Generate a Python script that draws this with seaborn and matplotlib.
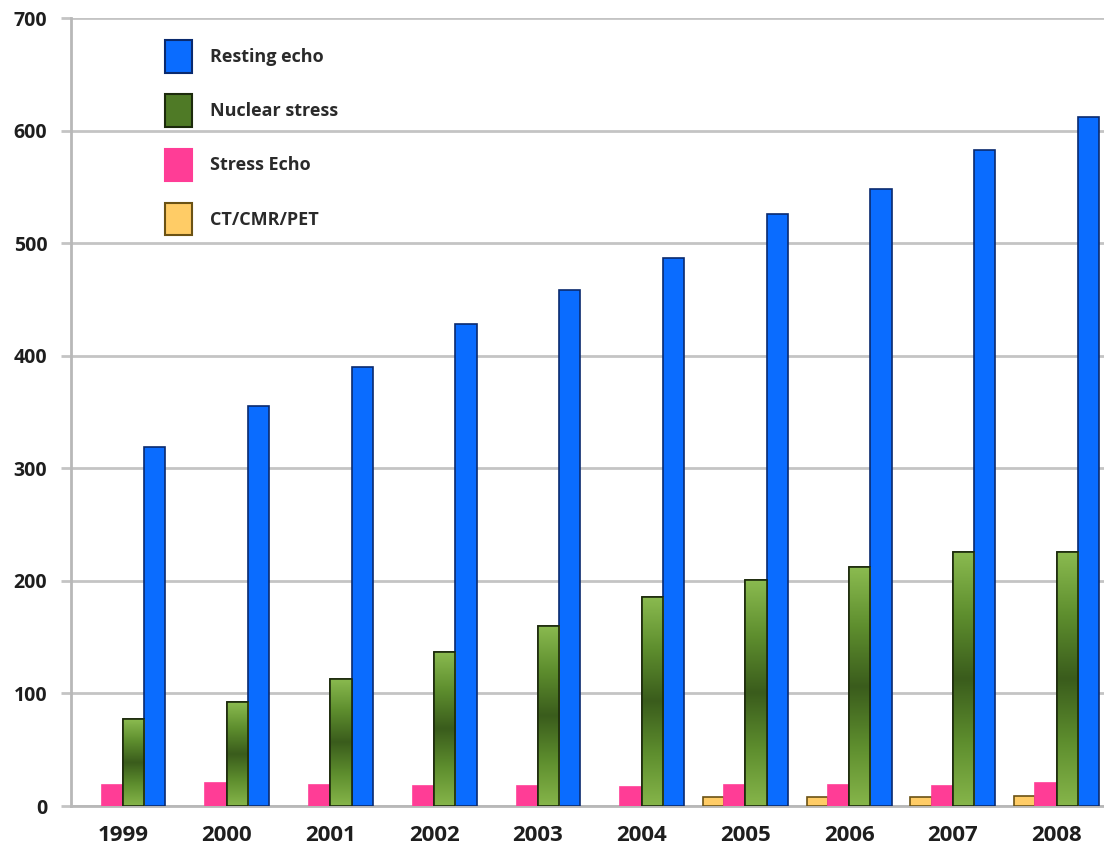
import numpy as np
import pandas as pd
import matplotlib
matplotlib.use("Agg")
import matplotlib.pyplot as plt
from matplotlib.patches import Patch, Rectangle
from matplotlib.colors import LinearSegmentedColormap
import seaborn as sns

years = ["1999", "2000", "2001", "2002", "2003", "2004", "2005", "2006", "2007", "2008"]
ct_cmr_pet = [0, 0, 0, 0, 0, 0, 8, 8, 8, 9]
stress_echo = [19, 20, 19, 18, 18, 17, 19, 19, 18, 20]
nuclear_stress = [77, 92, 113, 137, 160, 186, 201, 212, 226, 226]
resting_echo = [319, 355, 390, 428, 458, 487, 526, 548, 583, 612]

series = ["CT/CMR/PET", "Stress Echo", "Nuclear stress", "Resting echo"]
colors = {
    "CT/CMR/PET": "#ffcc66",
    "Stress Echo": "#ff3d96",
    "Nuclear stress": "#5e8a30",
    "Resting echo": "#0a6cff",
}
edges = {
    "CT/CMR/PET": "#6b5214",
    "Stress Echo": "#ff3d96",
    "Nuclear stress": "#1c2a0c",
    "Resting echo": "#0a2a6e",
}

df = pd.DataFrame({
    "year": np.repeat(years, 4),
    "series": series * len(years),
    "value": np.ravel(np.column_stack([ct_cmr_pet, stress_echo, nuclear_stress, resting_echo])),
})

sns.set_theme(style="white")
plt.rcParams["font.family"] = ["Open Sans", "DejaVu Sans"]

fig = plt.figure(figsize=(11.04, 8.51), dpi=100)
ax = fig.add_axes([71 / 1104, 45 / 851, 1037.5 / 1104, 788 / 851])

sns.barplot(data=df, x="year", y="value", hue="series", hue_order=series,
            palette=colors, width=0.82, saturation=1, ax=ax, legend=False, zorder=3)

for cont, name in zip(ax.containers, series):
    for bar in cont:
        bar.set_edgecolor(edges[name])
        # empty years get no outline at all
        bar.set_linewidth(1.2 if bar.get_height() > 0 else 0)

# shaded fill for the nuclear stress bars: lighter at the ends, darker in the middle
green_cmap = LinearSegmentedColormap.from_list(
    "nuc", ["#86b54a", "#5e8e2e", "#3a5c1c", "#5e8e2e", "#8bbb50"])
grad = np.linspace(0, 1, 256).reshape(-1, 1)
for bar in ax.containers[2]:
    x0, y0 = bar.get_x(), bar.get_y()
    w, h = bar.get_width(), bar.get_height()
    im = ax.imshow(grad, extent=[x0, x0 + w, y0, y0 + h], origin="lower",
                   cmap=green_cmap, aspect="auto", zorder=3.5)
    im.set_clip_path(bar)
    ax.add_patch(Rectangle((x0, y0), w, h, fill=False, edgecolor=edges["Nuclear stress"],
                           linewidth=1.2, zorder=3.6))

ax.set_xlim(-0.5, 9.5)
ax.set_ylim(0, 700)
ax.set_yticks(range(0, 701, 100))
ax.set_xlabel("")
ax.set_ylabel("")

ax.yaxis.grid(True, color="#c4c4c4", linewidth=2, zorder=0)
ax.set_axisbelow(True)
for side in ["top", "right"]:
    ax.spines[side].set_visible(False)
for side in ["left", "bottom"]:
    ax.spines[side].set_color("#b8b8b8")
    ax.spines[side].set_linewidth(2)

ax.set_xticks(np.arange(-0.5, 10, 1), minor=True)
ax.tick_params(axis="x", which="major", length=0, pad=14)
ax.tick_params(axis="x", which="minor", length=5, width=1, color="#b8b8b8", direction="out")
ax.tick_params(axis="y", which="major", length=7, width=2, color="#c4c4c4", pad=10, left=True)

for lab in ax.get_xticklabels():
    lab.set_fontsize(16)
    lab.set_fontweight("bold")
    lab.set_color("#1e1e1e")
for lab in ax.get_yticklabels():
    lab.set_fontsize(14)
    lab.set_fontweight("bold")
    lab.set_color("#1e1e1e")

handles = [Patch(facecolor=colors[s], edgecolor=edges[s], linewidth=1.5, label=s)
           for s in reversed(series)]
handles[1].set_facecolor("#4f7a26")
leg = fig.legend(handles=handles, loc="upper left", bbox_to_anchor=(165 / 1104, 1 - 40 / 851),
                 frameon=False, fontsize=13, handlelength=1.5, handleheight=2.4,
                 labelspacing=1.2, handletextpad=1.0, borderpad=0, borderaxespad=0)
for t in leg.get_texts():
    t.set_fontweight("bold")
    t.set_color("#2a2a2a")

fig.savefig("out.png", dpi=100, facecolor="white")
